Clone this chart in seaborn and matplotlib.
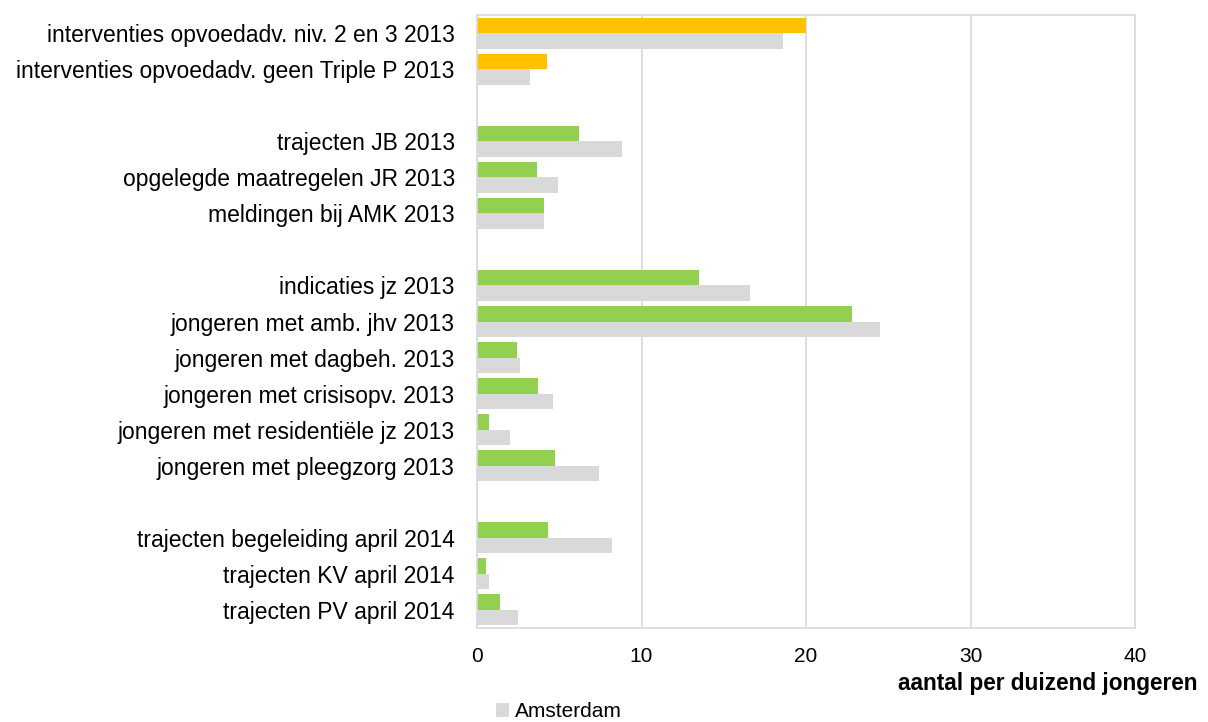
import pandas as pd
import numpy as np
import matplotlib
matplotlib.use("Agg")
import matplotlib.pyplot as plt
import seaborn as sns

# categorieen van boven naar beneden; lege strings zijn witregels tussen de groepen
categorieen = [
    "interventies opvoedadv. niv. 2 en 3 2013",
    "interventies opvoedadv. geen Triple P 2013",
    " ",
    "trajecten JB 2013",
    "opgelegde maatregelen JR 2013",
    "meldingen bij AMK 2013",
    "  ",
    "indicaties jz 2013",
    "jongeren met amb. jhv 2013",
    "jongeren met dagbeh. 2013",
    "jongeren met crisisopv. 2013",
    "jongeren met residentiële jz 2013",
    "jongeren met pleegzorg 2013",
    "   ",
    "trajecten begeleiding april 2014",
    "trajecten KV april 2014",
    "trajecten PV april 2014",
]
gemeente = [20.0, 4.25, np.nan, 6.2, 3.65, 4.1, np.nan, 13.5, 22.8, 2.4, 3.7, 0.7, 4.75, np.nan, 4.3, 0.55, 1.4]
amsterdam = [18.6, 3.2, np.nan, 8.8, 4.9, 4.1, np.nan, 16.6, 24.5, 2.6, 4.6, 2.0, 7.4, np.nan, 8.2, 0.75, 2.5]
oranje_rijen = ["interventies opvoedadv. niv. 2 en 3 2013", "interventies opvoedadv. geen Triple P 2013"]

GROEN = "#92D050"
ORANJE = "#FFC000"
GRIJS = "#D9D9D9"

df = pd.DataFrame({"categorie": categorieen, "gemeente": gemeente, "Amsterdam": amsterdam})
df_long = df.melt(id_vars="categorie", var_name="reeks", value_name="waarde").dropna()

sns.set_style("white")
plt.rcParams["font.family"] = ["Liberation Sans", "DejaVu Sans"]
plt.rcParams["text.color"] = "black"

fig = plt.figure(figsize=(12.08, 7.22), dpi=100)
ax = fig.add_axes([0.3949, 0.1302, 0.5447, 0.849])

sns.barplot(
    data=df_long, y="categorie", x="waarde", hue="reeks",
    order=categorieen, hue_order=["gemeente", "Amsterdam"],
    palette=[GROEN, GRIJS], width=0.86, dodge=True,
    saturation=1, legend=False, linewidth=0, ax=ax,
)

# eerste twee rijen in oranje
oranje_idx = [categorieen.index(c) for c in oranje_rijen]
for p in ax.containers[0]:
    yc = p.get_y() + p.get_height()
    if round(yc) in oranje_idx:
        p.set_facecolor(ORANJE)

ax.set_xlim(0, 40)
ax.set_ylim(len(categorieen) - 0.5, -0.5)
ax.set_xticks([0, 10, 20, 30, 40])
ax.xaxis.grid(True, color=GRIJS, linewidth=1.2)
ax.set_axisbelow(True)
for s in ax.spines.values():
    s.set_color(GRIJS)
    s.set_linewidth(1.2)
ax.tick_params(axis="both", length=0, colors="black")
ax.tick_params(axis="x", pad=14, labelsize=15)
ax.tick_params(axis="y", pad=16, labelsize=16.5)
ax.set_ylabel("")
ax.set_xlabel("")

fig.text(0.991, 0.053, "aantal per duizend jongeren", ha="right", va="center",
         fontsize=16.3, fontweight="bold", color="black")

handle = plt.Rectangle((0, 0), 1, 1, facecolor=GRIJS, edgecolor="none")
fig.legend([handle], ["Amsterdam"], loc="center left", bbox_to_anchor=(0.411, 0.014),
           frameon=False, fontsize=15, handlelength=0.6, handleheight=0.6,
           handletextpad=0.3, borderaxespad=0, borderpad=0, labelcolor="black")

plt.savefig("out.png", dpi=100)
